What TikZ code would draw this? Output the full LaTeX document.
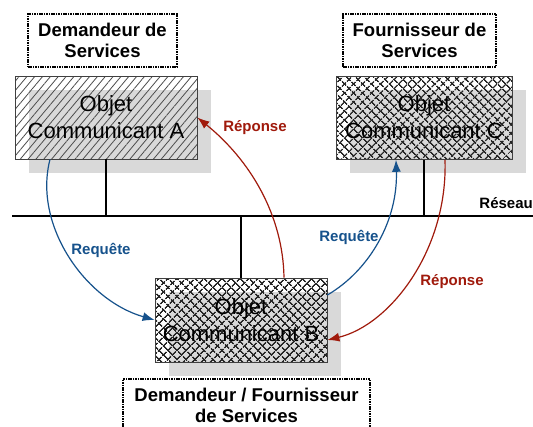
\documentclass[tikz,border=0pt]{standalone}
\usepackage{fontspec}
\setmainfont{Liberation Sans}
\usetikzlibrary{patterns.meta,shadows,arrows.meta}
\definecolor{reqblue}{RGB}{22,82,140}
\definecolor{repred}{RGB}{160,26,12}
\definecolor{ombre}{RGB}{217,217,217}
\begin{document}
\begin{tikzpicture}[x=1pt,y=-1pt]
	\tikzstyle{objet}=[draw=black!75,line width=0.8pt,inner sep=0pt,align=center,font=\fontsize{22}{27}\selectfont,drop shadow={shadow xshift=14pt,shadow yshift=-14pt,fill=ombre,opacity=1}]
	\tikzstyle{hachure}=[pattern={Lines[angle=50,distance=6pt,line width=0.8pt]},pattern color=black!70]
	\tikzstyle{croisillon}=[preaction={pattern={Lines[angle=45,distance=6.4pt,line width=1.6pt]},pattern color=black!85},pattern={Lines[angle=-45,distance=6.4pt,line width=1.6pt]},pattern color=black!85]
	\tikzstyle{role}=[draw,dash pattern=on 1.6pt off 0.8pt,line width=2.4pt,inner xsep=4pt,inner ysep=9pt,align=center,font=\bfseries\fontsize{18.5}{21}\selectfont]
	\tikzstyle{requete}=[draw=reqblue,line width=1.2pt,-{Latex[length=12pt,width=9pt]}]
	\tikzstyle{reponse}=[draw=repred,line width=1.2pt,-{Latex[length=12pt,width=9pt]}]
	\tikzstyle{etiquette}=[font=\bfseries\fontsize{15}{18}\selectfont,inner sep=0pt]
	\path[use as bounding box,fill=white] (0,0) rectangle (533,426);
	% les trois objets
	\node[objet,hachure,minimum width=182pt,minimum height=83pt] (obj_A) at (106,117.5) {Objet\\Communicant A};
	\node[objet,croisillon,minimum width=176pt,minimum height=83pt] (obj_C) at (424,117.5) {Objet\\Communicant C};
	\node[objet,croisillon,minimum width=172pt,minimum height=84pt] (obj_B) at (241,320) {Objet\\Communicant B};
	% les roles
	\node[role,minimum width=149pt,minimum height=53pt] (role_A) at (102.5,40.5) {Demandeur de\\Services};
	\node[role,minimum width=153pt,minimum height=53pt] (role_C) at (419.5,40.5) {Fournisseur de\\Services};
	\node[role,minimum width=247pt,anchor=north] (role_B) at (246.5,378) {Demandeur / Fournisseur\\de Services};
	% le reseau
	\coordinate (res_w) at (12,216);
	\coordinate (res_e) at (533,216);
	\draw[line width=1.3pt] (res_w) -- (res_e);
	\node[etiquette,anchor=east] (reseau) at (533,203) {Réseau};
	\draw[line width=2pt] (obj_A.south) -- (obj_A.south |- res_w) (obj_C.south) -- (obj_C.south |- res_w) (obj_B.north) -- (obj_B.north |- res_w);
	% les echanges
	\draw[requete] ([xshift=-56pt]obj_A.south) .. controls (33,225) and (85,300) .. (obj_B.west);
	\draw[reponse] ([xshift=43pt]obj_B.north) .. controls (283,215) and (250,160) .. (obj_A.east);
	\draw[requete] ([yshift=25pt]obj_B.east) .. controls (370,270) and (398,220) .. ([xshift=-28pt]obj_C.south);
	\draw[reponse] ([xshift=21pt]obj_C.south) .. controls (448,250) and (390,325) .. ([yshift=-20pt]obj_B.east);
	\node[etiquette,text=reqblue] (req_1) at (101,250) {Requête};
	\node[etiquette,text=reqblue] (req_2) at (349,237) {Requête};
	\node[etiquette,text=repred] (rep_1) at (255,128) {Réponse};
	\node[etiquette,text=repred] (rep_2) at (452,282) {Réponse};
\end{tikzpicture}
\end{document}
